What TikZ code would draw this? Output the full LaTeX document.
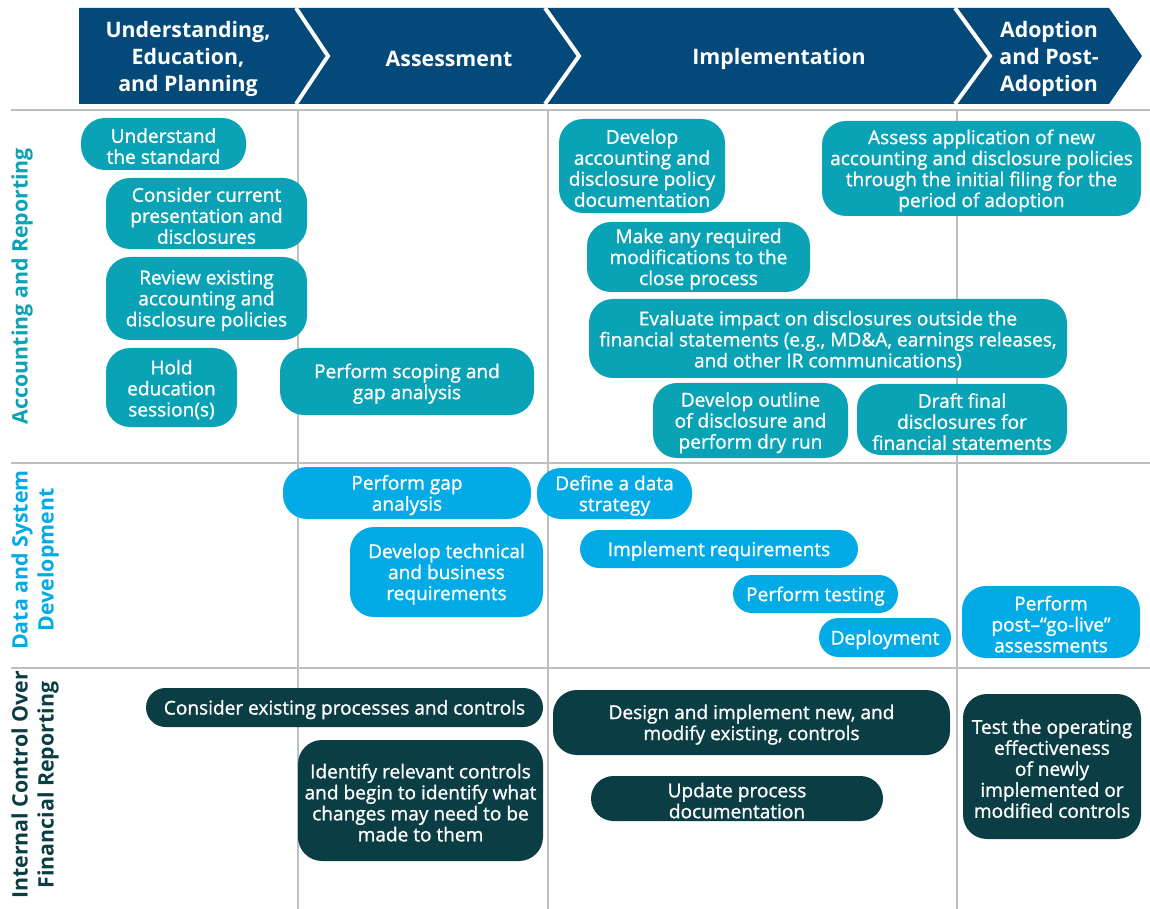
\documentclass[tikz,border=0pt]{standalone}
\usepackage{fontspec}
\setmainfont{Open Sans}
\newfontfamily\boxfont[FakeBold=1.1]{Open Sans}
\definecolor{hdr}{HTML}{034A7B}
\definecolor{teal}{HTML}{0AA3B6}
\definecolor{lblue}{HTML}{03ABE6}
\definecolor{dteal}{HTML}{0B3D45}
\definecolor{grid}{HTML}{BFBFBF}
\newcommand\pill[7]{%
  \pgfmathsetmacro\pillr{min(24,(#5-#3)/2)*0.75}%
  \pgfmathsetmacro\pillw{(#4-#2)*0.75}%
  \pgfmathsetmacro\pillh{(#5-#3)*0.75}%
  \node[#6, rounded corners=\pillr pt, minimum width=\pillw pt, minimum height=\pillh pt] (#1) at ({(#2+#4)/2},{(#3+#5)/2}) {};
  \node[pilltext] (#1t) at ([yshift=-1.6pt]#1.center) {#7};}
\tikzset{
  pillbase/.style={inner sep=0pt},
  pilltext/.style={inner sep=0pt, align=center, text=white, font=\boxfont\fontsize{14.3}{15.75}\selectfont},
  ar/.style={pillbase, fill=teal},
  ds/.style={pillbase, fill=lblue},
  ic/.style={pillbase, fill=dteal},
  hdrtext/.style={text=white, align=center, font=\bfseries\fontsize{16}{20.25}\selectfont},
  rowlab/.style={rotate=90, align=center, font=\bfseries\fontsize{16}{19.5}\selectfont},
  gridline/.style={draw=grid, line width=1.2pt},
  sep/.style={draw=white, line width=3pt}
}
\begin{document}
\begin{tikzpicture}[x=0.75pt,y=-0.75pt]
\useasboundingbox (0,0) rectangle (1150,909);
% header
\fill[hdr] (79,8) -- (1109,8) -- (1142,56) -- (1109,104) -- (79,104) -- cycle;
\draw[sep] (296,8) -- (328,56) -- (296,104);
\draw[sep] (545,8) -- (579,56) -- (545,104);
\draw[sep] (955,8) -- (990,56) -- (955,104);
\node[hdrtext] (h1) at (188,59) {Understanding,\\Education,\\and Planning};
\node[hdrtext] (h2) at (449,59) {Assessment};
\node[hdrtext] (h3) at (779,59) {Implementation};
\node[hdrtext] (h4) at (1049,59) {Adoption\\and Post-\\Adoption};
% grid
\coordinate (gl1) at (11,110); \coordinate (gr1) at (1150,110);
\coordinate (gl2) at (11,463); \coordinate (gr2) at (1150,463);
\coordinate (gl3) at (11,668); \coordinate (gr3) at (1150,668);
\draw[gridline] (gl1) -- (gr1);
\draw[gridline] (gl2) -- (gr2);
\draw[gridline] (gl3) -- (gr3);
\coordinate (vt1) at (298,110); \coordinate (vb1) at (298,909);
\coordinate (vt2) at (548,110); \coordinate (vb2) at (548,909);
\coordinate (vt3) at (957,110); \coordinate (vb3) at (957,909);
\draw[gridline] (vt1) -- (vb1);
\draw[gridline] (vt2) -- (vb2);
\draw[gridline] (vt3) -- (vb3);
% row labels
\node[rowlab, text=teal] (r1) at (22,286) {Accounting and Reporting};
\node[rowlab, text=lblue] (r2) at (35,560) {Data and System\\Development};
\node[rowlab, text=dteal] (r3) at (35,785) {Internal Control Over\\Financial Reporting};
% accounting and reporting
\pill{a1}{81}{118}{246}{170}{ar}{Understand\\the standard}
\pill{a2}{106}{178}{307}{249}{ar}{Consider current\\presentation and\\disclosures}
\pill{a3}{106}{257}{307}{340}{ar}{Review existing\\accounting and\\disclosure policies}
\pill{a4}{106}{348}{237}{427}{ar}{Hold\\education\\session(s)}
\pill{a5}{280}{348}{534}{415}{ar}{Perform scoping and\\gap analysis}
\pill{a6}{559}{119}{725}{213}{ar}{Develop\\accounting and\\disclosure policy\\documentation}
\pill{a7}{587}{222}{810}{292}{ar}{Make any required\\modifications to the\\close process}
\pill{a8}{822}{121}{1141}{216}{ar}{Assess application of new\\accounting and disclosure policies\\through the initial filing for the\\period of adoption}
\pill{a9}{589}{299}{1067}{378}{ar}{Evaluate impact on disclosures outside the\\financial statements (e.g., MD\&A, earnings releases,\\and other IR communications)}
\pill{a10}{653}{383}{848}{458}{ar}{Develop outline\\of disclosure and\\perform dry run}
\pill{a11}{857}{384}{1067}{455}{ar}{Draft final\\disclosures for\\financial statements}
% data and system
\pill{d1}{283}{467}{531}{519}{ds}{Perform gap\\analysis}
\pill{d2}{537}{468}{692}{519}{ds}{Define a data\\strategy}
\pill{d3}{350}{527}{543}{617}{ds}{Develop technical\\and business\\requirements}
\pill{d4}{580}{530}{858}{568}{ds}{Implement requirements}
\pill{d5}{733}{575}{898}{613}{ds}{Perform testing}
\pill{d6}{819}{618}{951}{657}{ds}{Deployment}
\pill{d7}{962}{586}{1140}{658}{ds}{Perform\\post–“go-live”\\assessments}
% ICFR
\pill{c1}{146}{688}{543}{727}{ic}{Consider existing processes and controls}
\pill{c2}{298}{740}{543}{861}{ic}{Identify relevant controls\\and begin to identify what\\changes may need to be\\made to them}
\pill{c3}{553}{690}{950}{755}{ic}{Design and implement new, and\\modify existing, controls}
\pill{c4}{591}{776}{883}{821}{ic}{Update process\\documentation}
\pill{c5}{963}{694}{1141}{839}{ic}{Test the operating\\effectiveness\\of newly\\implemented or\\modified controls}
\end{tikzpicture}
\end{document}
